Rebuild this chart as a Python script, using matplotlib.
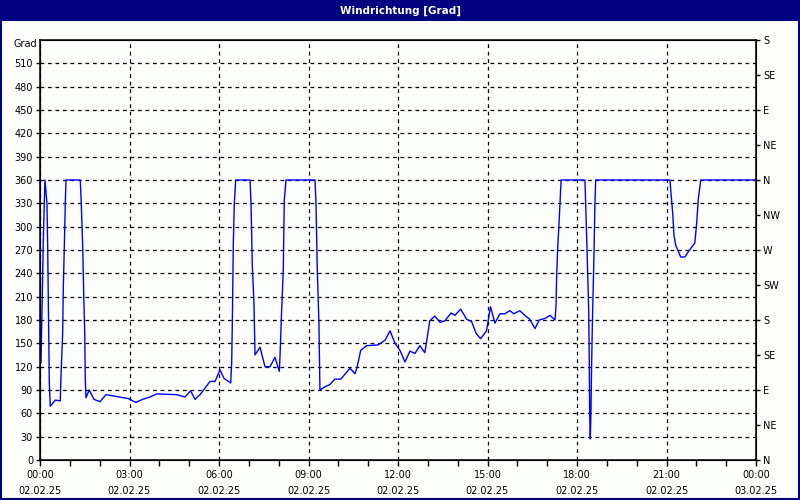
import numpy as np
from matplotlib import pyplot as plt
from matplotlib.patches import Rectangle
from matplotlib.ticker import MultipleLocator, FixedLocator

# minutes since 02.02.25 00:00 and wind direction in degrees
minutes = [2, 6.6, 8.6, 10, 14, 15.5, 17.5, 18.7, 20.7, 30.8, 40.8, 42, 45.6, 46.9, 48.9,
           50.9, 52.3, 81, 83, 86, 88, 90, 91, 92.5, 99, 108.6, 120.7, 132.7, 159.5, 177.6,
           193, 206.5, 221, 234.7, 275, 291.6, 303, 311.7, 321.8, 342, 352, 362, 370, 383.5,
           385.5, 386.8, 388.8, 390.8, 393.6, 422.4, 424.4, 427, 430.4, 432.4, 442.5, 452.5,
           462.6, 472.6, 481.3, 482.7, 486, 489.3, 491.3, 494.8, 553, 555, 557.7, 561, 563,
           573, 583, 593, 605, 623.5, 633.5, 638, 645, 657, 680, 694, 704, 714, 724, 734, 744,
           754, 764, 774, 784, 794, 804.5, 814.5, 826.6, 834.6, 846, 858, 868, 877, 886, 898,
           906, 915, 925, 935, 945, 953, 965, 975, 985, 995.5, 1004, 1015.6, 1025.7, 1035.8,
           1037.8, 1039, 1041, 1044, 1048, 1096, 1097.5, 1100.7, 1103.5, 1104.7, 1105.5,
           1106.8, 1108, 1109.5, 1111.5, 1114, 1116, 1117.6, 1267, 1269, 1272.5, 1275, 1278.6,
           1288.6, 1297, 1304, 1317, 1320.6, 1324, 1329, 1440]
grad = [125, 281, 331, 360, 330, 272, 158, 99, 69, 77, 76, 105, 163, 223, 274,
        331, 360, 360, 330, 272, 210, 163, 107, 80, 90, 78, 75, 84, 81, 79,
        74, 78, 81, 85, 84, 81, 89, 78, 84, 101, 101, 116, 105, 99,
        125, 176, 279, 330, 360, 360, 330, 249, 201, 135, 145, 120,
        120, 132, 114, 133, 193, 244, 334, 360, 360, 332, 244, 176, 90,
        94, 97, 104, 104, 118, 111, 120, 141, 147, 148, 154, 166, 150, 141, 126, 140,
        137, 147, 138, 179, 185, 177, 179, 189, 186, 194, 181, 178, 163, 156, 166,
        197, 176, 188, 188, 192, 188, 192, 186, 181, 169, 180, 182, 186, 180,
        198, 234, 270, 306, 360, 360, 328, 259, 193, 126, 60,
        27, 60, 126, 193, 259, 328, 360, 360, 343, 317, 289, 276,
        261, 261, 268, 279, 304, 336, 360, 360]

x_labels = ["00:00\n02.02.25", "03:00\n02.02.25", "06:00\n02.02.25", "09:00\n02.02.25",
            "12:00\n02.02.25", "15:00\n02.02.25", "18:00\n02.02.25", "21:00\n02.02.25",
            "00:00\n03.02.25"]
compass = ["N", "NE", "E", "SE", "S", "SW", "W", "NW", "N", "NE", "E", "SE", "S"]

navy = "#000080"
fig = plt.figure(figsize=(8, 5), dpi=100)
fig.patch.set_facecolor("#fcfefc")

# title bar and frame
fig.patches.append(Rectangle((0, 1 - 21 / 500), 1, 21 / 500, transform=fig.transFigure,
                             facecolor=navy, edgecolor="none", zorder=0))
fig.patches.append(Rectangle((0.6 / 800, 1.5 / 500), 798 / 800, 497 / 500, transform=fig.transFigure,
                             facecolor="none", edgecolor=navy, linewidth=1.5, zorder=0))
fig.text(0.5, 1 - 10.5 / 500, "Windrichtung [Grad]", color="white", fontsize=7.5,
         fontweight="bold", ha="center", va="center")

ax = fig.add_axes([40 / 800, 40 / 500, 716 / 800, 420 / 500])
ax.set_facecolor("#fcfefc")
ax.plot(minutes, grad, color="#0000ff", linewidth=1)

ax.set_xlim(0, 1440)
ax.set_ylim(0, 540)
ax.set_xticks(np.arange(0, 1441, 180))
ax.set_xticklabels(x_labels, fontsize=7, linespacing=1.75)
ax.xaxis.set_minor_locator(MultipleLocator(60))
ax.set_yticks(np.arange(0, 511, 30))
ax.tick_params(axis="y", labelsize=7, length=3, width=1, pad=2)
ax.tick_params(axis="x", which="major", length=4, width=1, pad=3)
ax.tick_params(axis="x", which="minor", length=4, width=1)
ax.grid(True, which="major", color="black", linestyle=(0, (3, 3)), linewidth=0.9)

for side in ["left", "bottom", "right", "top"]:
    ax.spines[side].set_linewidth(1.1)

ax2 = ax.twinx()
ax2.set_ylim(0, 540)
ax2.yaxis.set_major_locator(FixedLocator(np.arange(0, 541, 45)))
ax2.set_yticklabels(compass, fontsize=7)
ax2.tick_params(axis="y", length=3, width=1, pad=2)

fig.text(37 / 800, 1 - 44 / 500, "Grad", fontsize=7, ha="right", va="center")

plt.savefig("out.png", dpi=100)
